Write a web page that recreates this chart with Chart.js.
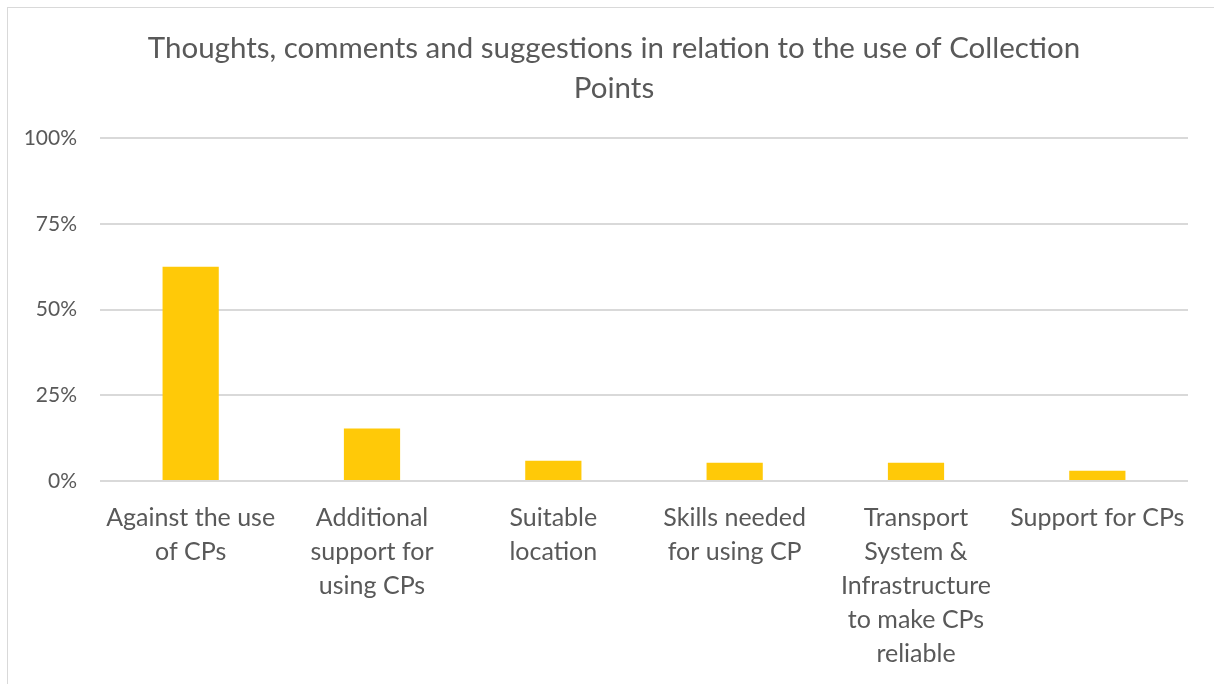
<!DOCTYPE html>
<html>
<head>
<meta charset="utf-8">
<script src="https://cdn.jsdelivr.net/npm/chart.js@4"></script>
<style>
    html, body { margin: 0; padding: 0; background: #fff; }
    #marco {
        position: absolute; left: 7px; top: 7px; width: 1207px; height: 677px;
        border-top: 1px solid #d9d9d9; border-left: 1px solid #d9d9d9;
    }
    #grafico { position: absolute; left: 0; top: 0; }
</style>
</head>
<body>
<div id="marco"></div>
<canvas id="grafico" width="1214" height="684"></canvas>
<script>
// Categorías (cada una partida en líneas como en el eje)
const categorias = [
    ['Against the use', 'of CPs'],
    ['Additional', 'support for', 'using CPs'],
    ['Suitable', 'location'],
    ['Skills needed', 'for using CP'],
    ['Transport', 'System &', 'Infrastructure', 'to make CPs', 'reliable'],
    ['Support for CPs']
];
// Porcentaje de respuestas por categoría
const porcentajes = [62.5, 15.3, 5.9, 5.3, 5.3, 3.0];
// Marcas del eje Y
const marcasY = [0, 25, 50, 75, 100];
const titulo = ['Thoughts, comments and suggestions in relation to the use of Collection', 'Points'];

const gris = '#595959';
const fuente = 'Lato, "Open Sans", sans-serif';

// Centra el título sobre todo el marco y no sólo sobre el área con padding
const centrarTitulo = {
    id: 'centrarTitulo',
    afterLayout(chart) {
        if (chart.titleBlock) chart.titleBlock.left += 30;
    }
};

const ctx = document.getElementById('grafico').getContext('2d');
new Chart(ctx, {
    type: 'bar',
    data: {
        labels: categorias,
        datasets: [{
            data: porcentajes,
            backgroundColor: '#ffc908',
            categoryPercentage: 1,
            barPercentage: 0.31
        }]
    },
    options: {
        responsive: false,
        animation: false,
        layout: { padding: { left: 10, right: 26, top: 0, bottom: 0 } },
        plugins: {
            legend: { display: false },
            tooltip: { enabled: false },
            title: {
                display: true,
                text: titulo,
                color: gris,
                font: { family: fuente, size: 29.5, weight: 'normal', lineHeight: 40 / 29.5 },
                padding: { top: 28, bottom: 30 }
            }
        },
        scales: {
            x: {
                grid: { display: false },
                border: { display: false },
                ticks: {
                    color: gris,
                    font: { family: fuente, size: 25, lineHeight: 34 / 25 },
                    maxRotation: 0,
                    autoSkip: false,
                    padding: 12
                },
                afterFit: s => { s.height = 203; }
            },
            y: {
                min: 0,
                max: 100,
                afterBuildTicks: s => { s.ticks = marcasY.map(v => ({ value: v })); },
                grid: { color: '#d9d9d9', lineWidth: 2, drawTicks: false },
                border: { display: false },
                ticks: {
                    color: gris,
                    font: { family: fuente, size: 21 },
                    padding: 23,
                    callback: v => v + '%'
                },
                afterFit: s => { s.width = 90; }
            }
        }
    },
    plugins: [centrarTitulo]
});
</script>
</body>
</html>
